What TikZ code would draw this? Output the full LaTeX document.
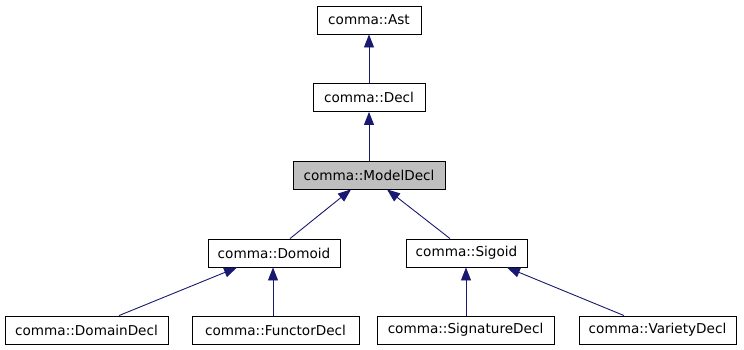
\documentclass[tikz,border=0pt]{standalone}
\usepackage{fontspec}
\setmainfont{DejaVu Sans}
\usetikzlibrary{arrows.meta}
\definecolor{edgeblue}{HTML}{191970}
\definecolor{boxgray}{HTML}{BFBFBF}
\begin{document}
\begin{tikzpicture}[x=1pt,y=-1pt,
  cls/.style={draw=black,line width=0.9pt,minimum height=28pt,inner sep=0pt,
    font=\fontsize{13.6}{16}\selectfont,fill=white},
  cur/.style={cls,fill=boxgray},
  inh/.style={draw=edgeblue,line width=0.9pt,-{Triangle[length=13pt,width=10pt]}}]
\useasboundingbox (0,0) rectangle (744,349);
\node[cls,minimum width=104pt] (ast) at (369,20) {comma::Ast};
\node[cls,minimum width=112pt] (decl) at (369,97.5) {comma::Decl};
\node[cur,minimum width=152pt] (model) at (369,175) {comma::ModelDecl};
\node[cls,minimum width=132pt] (domoid) at (274,253) {comma::Domoid};
\node[cls,minimum width=121pt] (sigoid) at (466.5,253) {comma::Sigoid};
\node[cls,minimum width=163pt] (domain) at (86.5,330) {comma::DomainDecl};
\node[cls,minimum width=167pt] (functor) at (275.5,330) {comma::FunctorDecl};
\node[cls,minimum width=177pt] (signature) at (465.5,330) {comma::SignatureDecl};
\node[cls,minimum width=157pt] (variety) at (657.5,330) {comma::VarietyDecl};
\draw[inh] (decl.north) -- (ast.south);
\draw[inh] (model.north) -- (decl.south);
\draw[inh] ([xshift=16pt]domoid.north) -- ([xshift=-18pt]model.south);
\draw[inh] ([xshift=-16.5pt]sigoid.north) -- ([xshift=18pt]model.south);
\draw[inh] ([xshift=32.5pt]domain.north) -- ([xshift=-37pt]domoid.south);
\draw[inh] ([xshift=-2.5pt]functor.north) -- ([xshift=-1pt]domoid.south);
\draw[inh] ([xshift=0.5pt]signature.north) -- ([xshift=-0.5pt]sigoid.south);
\draw[inh] ([xshift=-33.5pt]variety.north) -- ([xshift=40.5pt]sigoid.south);
\end{tikzpicture}
\end{document}
